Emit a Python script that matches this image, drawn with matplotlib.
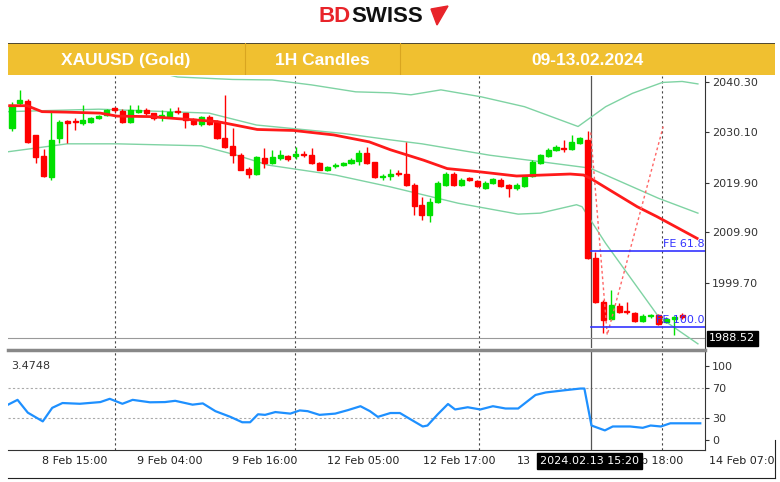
import numpy as np
import matplotlib
matplotlib.use("Agg")
import matplotlib.pyplot as plt
from matplotlib.patches import Rectangle

# ── data ───────────────────────────────────────────────────────────────────
OPEN = [2030.9, 2036.0, 2036.5, 2029.5, 2025.3, 2021.2, 2028.9, 2032.4, 2032.4, 2032.1,
        2032.3, 2033.0, 2033.6, 2035.0, 2034.5, 2032.3, 2034.3, 2034.6, 2034.0, 2033.3,
        2033.3, 2034.4, 2034.0, 2032.8, 2031.9, 2033.3, 2032.3, 2028.9, 2027.4, 2025.5,
        2022.8, 2021.8, 2024.9, 2024.0, 2025.0, 2025.3, 2025.3, 2025.7, 2025.5, 2023.9,
        2022.6, 2023.3, 2023.5, 2024.0, 2024.4, 2025.9, 2024.1, 2021.0, 2021.3, 2021.9,
        2021.8, 2019.5, 2015.4, 2013.4, 2016.1, 2019.5, 2021.8, 2019.5, 2020.8, 2020.3,
        2018.8, 2019.8, 2020.5, 2019.5, 2018.8, 2019.3, 2021.3, 2024.0, 2025.4, 2026.6,
        2027.0, 2026.7, 2028.0, 2028.6, 2004.7, 1995.9, 1992.5, 1995.0, 1994.0, 1993.7,
        1992.1, 1993.0, 1993.2, 1991.9, 1992.5, 1993.1]
HIGH = [2036.3, 2038.7, 2036.8, 2029.6, 2026.7, 2034.3, 2032.6, 2032.6, 2033.0, 2035.6,
        2033.2, 2033.7, 2034.8, 2035.3, 2034.8, 2035.6, 2035.6, 2035.0, 2034.1, 2034.6,
        2035.0, 2035.3, 2034.1, 2033.0, 2033.4, 2033.6, 2032.6, 2037.7, 2030.9, 2025.9,
        2023.2, 2025.4, 2026.9, 2026.6, 2026.6, 2025.5, 2027.1, 2026.4, 2026.9, 2024.2,
        2023.4, 2023.9, 2024.2, 2024.9, 2026.6, 2027.2, 2024.2, 2021.8, 2022.8, 2022.5,
        2028.2, 2019.8, 2017.1, 2016.8, 2020.2, 2022.2, 2022.2, 2020.8, 2021.2, 2020.5,
        2020.2, 2020.8, 2020.8, 2019.6, 2019.8, 2021.5, 2024.5, 2025.8, 2026.9, 2027.5,
        2028.6, 2029.6, 2029.2, 2030.3, 2006.0, 1996.2, 1998.3, 1995.6, 1995.9, 1993.9,
        1993.5, 1993.5, 1993.4, 1992.8, 1993.0, 1993.6]
LOW = [2030.3, 2035.6, 2028.0, 2023.9, 2021.2, 2020.5, 2028.0, 2027.9, 2030.6, 2031.6,
       2032.0, 2032.8, 2033.4, 2034.3, 2032.0, 2032.1, 2034.0, 2033.6, 2032.6, 2032.5,
       2033.0, 2033.8, 2030.9, 2031.6, 2031.4, 2031.6, 2028.7, 2026.9, 2023.9, 2022.5,
       2020.8, 2021.5, 2022.9, 2023.7, 2024.5, 2024.4, 2024.7, 2025.2, 2023.7, 2022.5,
       2022.3, 2022.9, 2023.3, 2023.8, 2023.5, 2023.7, 2020.8, 2020.4, 2020.5, 2021.3,
       2019.3, 2013.4, 2012.4, 2012.1, 2015.9, 2019.3, 2019.3, 2019.2, 2020.2, 2019.0,
       2018.6, 2019.6, 2019.0, 2017.1, 2018.5, 2019.1, 2021.0, 2023.8, 2025.2, 2026.3,
       2026.2, 2026.6, 2027.7, 2004.5, 1995.7, 1989.5, 1992.2, 1993.6, 1993.5, 1991.9,
       1991.9, 1992.6, 1991.3, 1991.7, 1989.2, 1992.5]
CLOSE = [2035.7, 2036.7, 2028.2, 2025.2, 2021.3, 2028.6, 2032.3, 2032.1, 2032.2, 2032.6,
         2033.0, 2033.4, 2034.6, 2034.6, 2032.3, 2034.6, 2034.6, 2034.0, 2033.0, 2033.6,
         2034.3, 2034.2, 2032.6, 2031.9, 2033.3, 2031.9, 2028.9, 2027.2, 2025.5, 2022.6,
         2021.8, 2025.1, 2024.0, 2025.1, 2025.5, 2024.7, 2025.7, 2025.5, 2023.9, 2022.6,
         2023.2, 2023.5, 2024.0, 2024.5, 2025.9, 2024.0, 2021.0, 2021.3, 2021.8, 2021.7,
         2019.5, 2015.2, 2013.4, 2016.1, 2019.8, 2021.8, 2019.5, 2020.5, 2020.5, 2019.2,
         2019.8, 2020.6, 2019.2, 2018.8, 2019.5, 2021.2, 2024.2, 2025.5, 2026.6, 2027.1,
         2026.8, 2028.2, 2028.9, 2004.7, 1995.9, 1992.2, 1995.2, 1993.9, 1993.8, 1992.1,
         1993.0, 1993.2, 1991.5, 1992.5, 1992.7, 1992.9]

MA_X = [-0.3, 1.9, 3.8, 6.9, 11.2, 13.3, 17.5, 21.7, 26.0, 27.3, 31.1, 35.7, 40.8, 45.3,
        48.0, 52.2, 55.2, 59.0, 64.0, 70.8, 72.5, 73.4, 79.3, 81.8, 86.9]
MA_Y = [2035.5, 2035.5, 2034.3, 2034.2, 2034.0, 2033.4, 2033.3, 2032.8, 2032.3, 2031.9,
        2030.7, 2030.5, 2029.6, 2028.2, 2026.6, 2024.5, 2022.8, 2022.2, 2021.3, 2021.7,
        2021.5, 2020.8, 2015.1, 2013.1, 2008.7]

UP_X = [-0.5, 15.0, 21.0, 28.0, 33.0, 38.0, 43.6, 48.0, 50.6, 54.4, 59.5, 65.0, 71.8,
        75.3, 78.7, 82.5, 85.0, 87.0]
UP_Y = [2044.0, 2043.5, 2041.3, 2040.8, 2040.7, 2039.7, 2038.3, 2038.1, 2037.7, 2038.7,
        2037.3, 2035.3, 2031.3, 2035.3, 2038.0, 2040.2, 2040.4, 2039.9]

MID_X = [-0.5, 11.0, 25.0, 31.0, 42.0, 48.0, 52.0, 60.6, 67.0, 73.3, 82.0, 87.0]
MID_Y = [2034.3, 2034.8, 2034.0, 2031.6, 2029.9, 2028.6, 2027.8, 2025.5, 2024.2, 2022.9,
         2016.8, 2013.8]

LOW_X = [-0.5, 2.8, 7.0, 13.3, 24.0, 28.5, 32.5, 41.0, 48.0, 56.6, 64.2, 67.0, 71.6,
         72.3, 75.3, 82.0, 87.0]
LOW_Y = [2026.2, 2026.9, 2027.8, 2027.8, 2027.4, 2025.5, 2023.5, 2021.5, 2019.1, 2015.8,
         2013.6, 2013.8, 2015.5, 2015.1, 2007.7, 1992.9, 1987.4]

FIB_X = [73.4, 75.5, 82.6]
FIB_Y = [2030.1, 1989.2, 2031.3]
FE_LEVELS = [("FE 61.8", 2006.1), ("FE 100.0", 1990.9)]
LAST_PRICE = 1988.52

RSI_X = [-0.5, 0.7, 2.0, 3.9, 5.1, 6.4, 8.6, 11.2, 12.4, 14.0, 15.3, 17.5, 19.4, 20.7,
         22.9, 24.2, 25.8, 27.7, 29.2, 30.2, 31.2, 32.1, 33.4, 35.3, 36.5, 37.5, 39.0,
         41.0, 42.6, 44.2, 45.4, 46.4, 48.0, 49.2, 50.5, 52.1, 52.7, 54.0, 55.3, 56.2,
         57.8, 59.4, 61.0, 62.6, 64.2, 66.4, 67.7, 70.2, 72.1, 72.6, 73.5, 75.2, 76.2,
         78.4, 80.0, 81.0, 82.3, 83.5, 87.3]
RSI_Y = [47.8, 54.3, 37.0, 25.2, 43.5, 50.0, 49.0, 51.3, 55.7, 49.0, 54.3, 51.0, 51.3, 53.0,
         47.8, 49.5, 39.0, 31.3, 24.0, 24.0, 34.8, 34.0, 37.8, 35.7, 40.0, 39.0, 34.0,
         35.7, 40.4, 45.7, 39.0, 31.3, 36.5, 36.5, 28.3, 18.3, 19.6, 34.8, 48.7, 41.3,
         44.3, 41.3, 45.7, 42.6, 42.6, 60.9, 64.3, 67.4, 69.6, 69.6, 19.6, 13.0, 18.3,
         18.3, 16.5, 19.6, 18.3, 22.6, 22.6]

PRICE_TICKS = [2040.30, 2030.10, 2019.90, 2009.90, 1999.70]
RSI_TICKS = [100, 70, 30, 0]
DASH_X = [13.1, 35.9, 59.2, 82.4]
CROSS_X = 73.4
TIME_LABELS = [("8 Feb 15:00", 42), ("9 Feb 04:00", 137), ("9 Feb 16:00", 232),
               ("12 Feb 05:00", 327), ("12 Feb 17:00", 423), ("13", 517),
               ("b 18:00", 641), ("14 Feb 07:0", 709)]

# ── layout helpers (pixel space) ───────────────────────────────────────────
W, H = 780, 482
fig = plt.figure(figsize=(W / 100, H / 100), dpi=100)
fig.patch.set_facecolor("white")


def px_axes(x0, y0, x1, y1, **kw):
    return fig.add_axes([x0 / W, 1 - y1 / H, (x1 - x0) / W, (y1 - y0) / H], **kw)


XL = (-0.51, 87.9)
GREEN_BAND = "#7fd3a3"
UPC, DNC = "#00e000", "#ff0000"

# ── main candle panel ──────────────────────────────────────────────────────
ax = px_axes(8, 76, 705, 348)
ax.set_xlim(*XL)
ax.set_ylim(1986.56, 2041.5)
for s in ["top", "left", "bottom"]:
    ax.spines[s].set_visible(False)
ax.spines["right"].set_color("#333333")
ax.set_xticks([])
ax.yaxis.tick_right()
ax.set_yticks(PRICE_TICKS)
ax.set_yticklabels([f"{v:.2f}" for v in PRICE_TICKS], fontsize=8, color="#333333")
ax.tick_params(axis="y", length=3, pad=2, color="#333333")

for dx in DASH_X:
    ax.axvline(dx, color="#444444", ls=(0, (2, 2.5)), lw=0.8)
ax.axvline(CROSS_X, color="#555555", lw=0.9)
ax.axhline(LAST_PRICE, color="#999999", lw=0.8)

ax.plot(UP_X, UP_Y, color=GREEN_BAND, lw=1)
ax.plot(MID_X, MID_Y, color=GREEN_BAND, lw=1)
ax.plot(LOW_X, LOW_Y, color=GREEN_BAND, lw=1)
ax.plot(MA_X, MA_Y, color="#ff1a1a", lw=2, zorder=4)

for i, (o, h, l, c) in enumerate(zip(OPEN, HIGH, LOW, CLOSE)):
    col = UPC if c >= o else DNC
    ax.vlines(i, l, h, color=col, lw=1, zorder=3)
    lo, hi = min(o, c), max(o, c)
    ax.add_patch(Rectangle((i - 0.32, lo), 0.64, max(hi - lo, 0.25), color=col, zorder=3))

ax.plot(FIB_X, FIB_Y, color="#ff6666", ls=(0, (2, 2)), lw=1, zorder=5)
for name, lvl in FE_LEVELS:
    ax.plot([FIB_X[0], XL[1]], [lvl, lvl], color="#3333ff", lw=1.2, zorder=5)
    ax.text(XL[1] - 0.1, lvl + 0.4, name, color="#3333ff", fontsize=8,
            ha="right", va="bottom", zorder=6)

ax.text(1.006, (LAST_PRICE - 1986.56) / (2041.5 - 1986.56), f"{LAST_PRICE:.2f}",
        transform=ax.transAxes, fontsize=8, color="white", va="center", ha="left",
        bbox=dict(boxstyle="square,pad=0.2", fc="black", ec="black"))

# ── RSI panel ──────────────────────────────────────────────────────────────
fig.add_artist(plt.Line2D([8 / W, 705 / W], [1 - 350 / H] * 2, color="#888888", lw=2.5))
rx = px_axes(8, 352, 705, 450)
rx.set_xlim(*XL)
rx.set_ylim(-13.5, 119)
for s in ["top", "left"]:
    rx.spines[s].set_visible(False)
rx.spines["right"].set_color("#333333")
rx.spines["bottom"].set_color("#333333")
rx.set_xticks([])
rx.yaxis.tick_right()
rx.set_yticks(RSI_TICKS)
rx.set_yticklabels([str(v) for v in RSI_TICKS], fontsize=8, color="#333333")
rx.tick_params(axis="y", length=3, pad=2, color="#333333")
for lvl in (70, 30):
    rx.axhline(lvl, color="#aaaaaa", ls=(0, (2, 2)), lw=0.8)
for dx in DASH_X:
    rx.axvline(dx, color="#444444", ls=(0, (2, 2.5)), lw=0.8)
rx.axvline(CROSS_X, color="#555555", lw=0.9)
rx.plot(RSI_X, RSI_Y, color="#1e90ff", lw=1.6)
rx.text(0.004, 0.86, "3.4748", transform=rx.transAxes, fontsize=8, color="#333333",
        va="center", ha="left")

# time labels
for lab, xp in TIME_LABELS:
    fig.text(xp / W, 1 - 461 / H, lab, fontsize=8, color="#222222", va="center", ha="left")
fig.text(540 / W, 1 - 461 / H, "2024.02.13 15:20", fontsize=8, color="white",
         va="center", ha="left",
         bbox=dict(boxstyle="square,pad=0.25", fc="black", ec="black"))
fig.add_artist(plt.Line2D([8 / W, 775 / W], [1 - 478 / H] * 2, color="#222222", lw=0.8))
fig.add_artist(plt.Line2D([775 / W, 775 / W], [1 - 478 / H, 1 - 440 / H], color="#222222", lw=0.8))

# ── header ─────────────────────────────────────────────────────────────────
bar = px_axes(8, 43, 775, 75)
bar.set_xlim(8, 775)
bar.set_ylim(0, 1)
bar.axis("off")
bar.add_patch(Rectangle((8, 0), 767, 1, color="#f0c030"))
bar.plot([8, 775], [1, 1], color="#333333", lw=1.2)
for xd in (245, 400):
    bar.plot([xd, xd], [0, 1], color="#d9a520", lw=0.8)
narrow = ["Liberation Sans Narrow", "Liberation Sans", "DejaVu Sans"]
for lab, xc in [("XAUUSD (Gold)", 126), ("1H Candles", 322), ("09-13.02.2024", 588)]:
    bar.text(xc, 0.45, lab, color="white", fontsize=12.5, fontweight="bold",
             ha="center", va="center", family=narrow)

fig.text(351 / W, 1 - 17 / H, "BD", color="#e8242a", fontsize=16, fontweight="bold",
         va="center", ha="right", family=narrow)
fig.text(351 / W, 1 - 17 / H, "SWISS", color="#111111", fontsize=16, fontweight="bold",
         va="center", ha="left", family=narrow)
fig.patches.append(plt.Polygon([[431 / W, 1 - 9 / H], [448 / W, 1 - 6 / H], [437 / W, 1 - 25 / H]],
                               closed=True, color="#e8242a", transform=fig.transFigure))

fig.savefig("out.png", dpi=100)
